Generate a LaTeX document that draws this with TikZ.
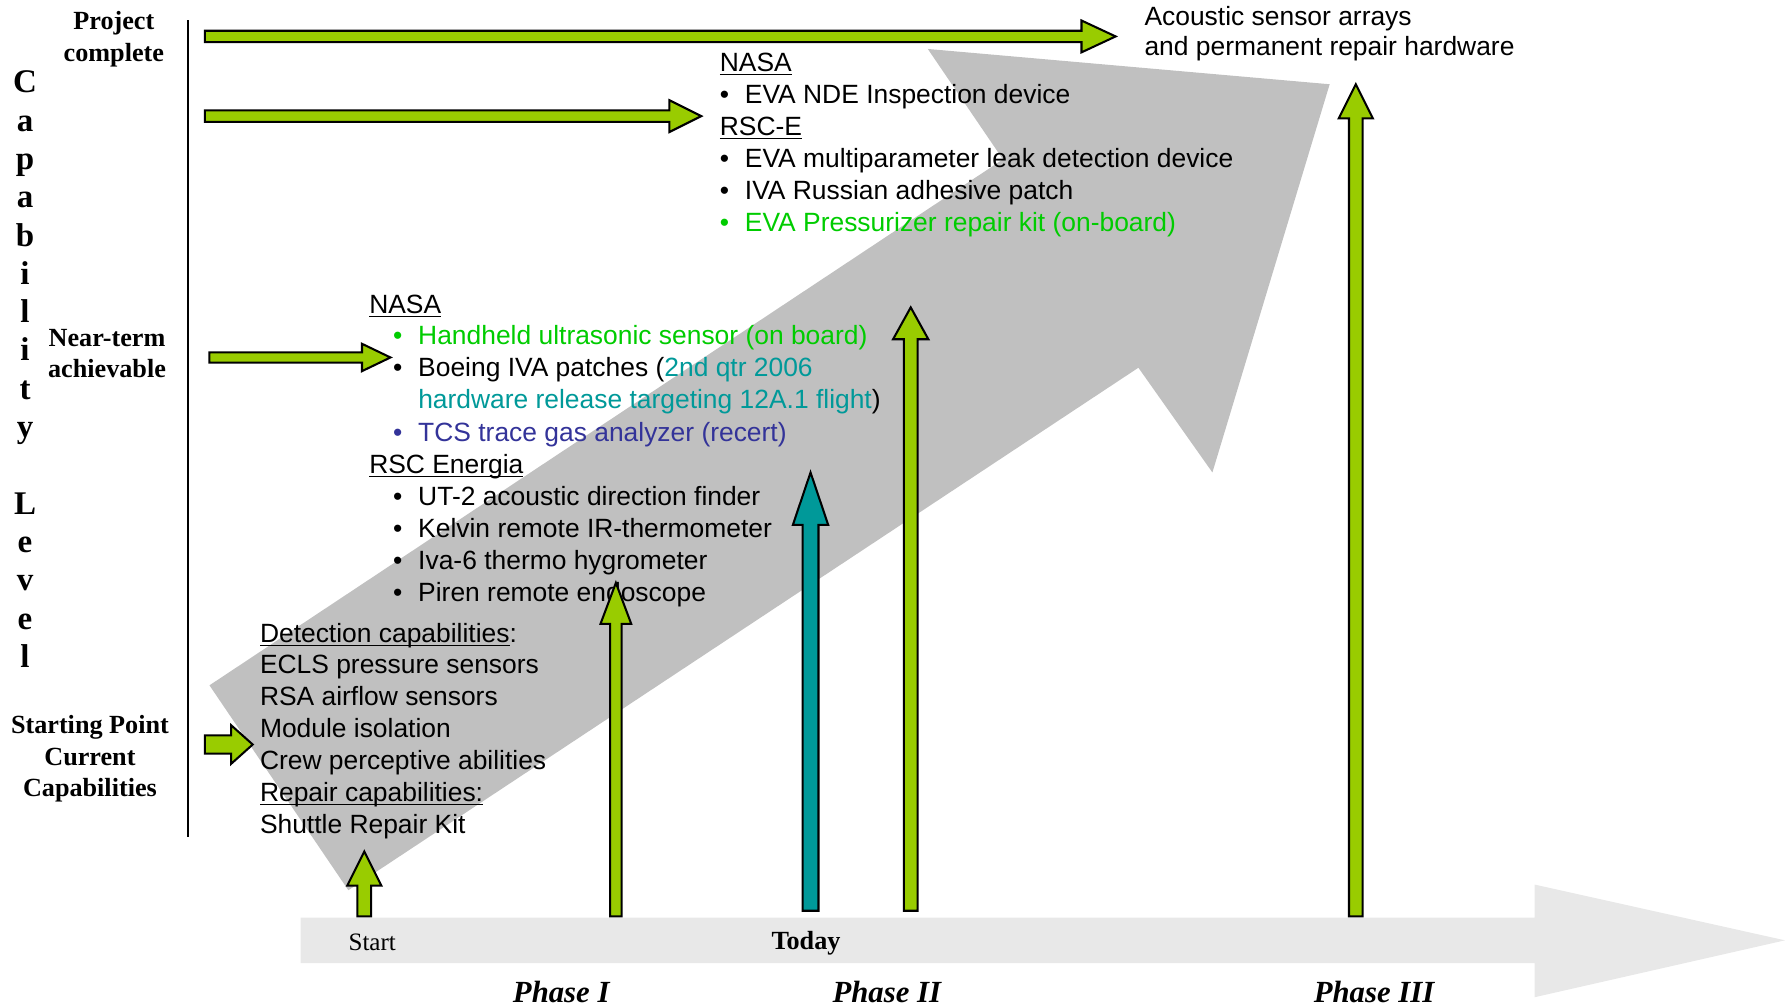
\documentclass[tikz,border=0pt]{standalone}
\usepackage{fontspec}
\setmainfont{Liberation Sans}
\newfontfamily\tnr{Liberation Serif}
\usepackage{tikz}
\usetikzlibrary{positioning}

\definecolor{arrgreen}{HTML}{99CC00}
\definecolor{arrteal}{HTML}{009999}
\definecolor{txtgreen}{HTML}{00CC00}
\definecolor{txtteal}{HTML}{009999}
\definecolor{txtblue}{HTML}{333399}
\definecolor{bigarrow}{HTML}{C0C0C0}
\definecolor{timeline}{HTML}{E8E8E8}

\newcommand{\bul}{\makebox[11pt][l]{\textbullet}}
\newcommand{\ul}[1]{\underline{\smash{#1}}}
% right pointing block arrow: x-from, x-tip, y, shaft half, head half, head length
\newcommand{\rarrow}[6]{%
  \draw[blockarr] (#1,#3-#4) -- (#2-#6,#3-#4) -- (#2-#6,#3-#5) -- (#2,#3)
    -- (#2-#6,#3+#5) -- (#2-#6,#3+#4) -- (#1,#3+#4) -- cycle;}
% upward block arrow: fill, x, y-from, y-tip, shaft half, head half, head length
\newcommand{\uarrow}[7]{%
  \draw[blockarr, fill=#1] (#2-#5,#3) -- (#2-#5,#4+#7) -- (#2-#6,#4+#7) -- (#2,#4)
    -- (#2+#6,#4+#7) -- (#2+#5,#4+#7) -- (#2+#5,#3) -- cycle;}

\begin{document}
\begin{tikzpicture}[
    x=0.5pt, y=-0.5pt,
    blockarr/.style={draw=black, line width=0.9pt, fill=arrgreen, line join=miter},
    item/.style={anchor=base west, inner sep=0, font=\fontsize{11.6}{14}\selectfont},
    lbl/.style={anchor=base, inner sep=0, font=\tnr\bfseries\fontsize{11.5}{14}\selectfont},
    vlet/.style={anchor=base, inner sep=0, font=\tnr\bfseries\fontsize{14.5}{17}\selectfont},
    phase/.style={anchor=base, inner sep=0, font=\tnr\bfseries\itshape\fontsize{13.5}{16}\selectfont},
]
    \useasboundingbox (0,0) rectangle (1568,885);

    % background arrows
    \fill[bigarrow] (184,602) -- (881,140) -- (815,43) -- (1168,74) -- (1065,415)
        -- (1000,323) -- (306,782) -- cycle;
    \fill[timeline] (264,806) -- (1348,806) -- (1348,777) -- (1568,826) -- (1348,876)
        -- (1348,846) -- (264,846) -- cycle;

    % axis
    \draw[line width=0.8pt] (165,18) -- (165,735);

    % left labels
    \node[lbl] (projA) at (100,26) {Project};
    \node[lbl] (projB) at (100,54) {complete};
    \node[lbl] (nearA) at (94,304) {Near-term};
    \node[lbl] (nearB) at (94,332) {achievable};
    \node[lbl] (startA) at (79,644) {Starting Point};
    \node[lbl] (startB) at (79,672) {Current};
    \node[lbl] (startC) at (79,700) {Capabilities};
    \foreach \ch [count=\i from 0] in {C,a,p,a,b,i,l,i,t,y,{},L,e,v,e,l}
        \node[vlet] (cap\i) at (22,81.6+33.64*\i) {\ch};

    % project complete
    \node[item] (acousA) at (1005,22) {Acoustic sensor arrays};
    \node[item] (acousB) at (1005,49) {and permanent repair hardware};

    % phase III items
    \node[item] (nasaTop) at (632,63) {\ul{NASA}};
    \node[item] (evaNde) at (632,91) {\bul EVA NDE Inspection device};
    \node[item] (rscE) at (632,119) {\ul{RSC-E}};
    \node[item] (evaLeak) at (632,147) {\bul EVA multiparameter leak detection device};
    \node[item] (ivaPatch) at (632,175) {\bul IVA Russian adhesive patch};
    \node[item, text=txtgreen] (evaKit) at (632,203) {\bul EVA Pressurizer repair kit (on-board)};

    % near-term items
    \node[item] (nasaMid) at (324,275) {\ul{NASA}};
    \node[item, text=txtgreen] (handheld) at (345,303) {\bul Handheld ultrasonic sensor (on board)};
    \node[item] (boeing) at (345,331) {\bul Boeing IVA patches (\textcolor{txtteal}{2nd qtr 2006}};
    \node[item] (boeingB) at (367,359) {\textcolor{txtteal}{hardware release targeting 12A.1 flight})};
    \node[item, text=txtblue] (tcs) at (345,388) {\bul TCS trace gas analyzer (recert)};
    \node[item] (energia) at (324,416) {\ul{RSC Energia}};
    \node[item] (ut2) at (345,444) {\bul UT-2 acoustic direction finder};
    \node[item] (kelvin) at (345,472) {\bul Kelvin remote IR-thermometer};
    \node[item] (iva6) at (345,500) {\bul Iva-6 thermo hygrometer};
    \node[item] (piren) at (345,528) {\bul Piren remote endoscope};

    % current capabilities
    \node[item] (detect) at (228,564) {\ul{Detection capabilities}:};
    \node[item] (ecls) at (228,592) {ECLS pressure sensors};
    \node[item] (rsa) at (228,620) {RSA airflow sensors};
    \node[item] (module) at (228,648) {Module isolation};
    \node[item] (crew) at (228,676) {Crew perceptive abilities};
    \node[item] (repair) at (228,704) {\ul{Repair capabilities:}};
    \node[item] (shuttle) at (228,732) {Shuttle Repair Kit};

    % timeline labels
    \node[anchor=base, inner sep=0, font=\tnr\fontsize{11}{13}\selectfont] (start) at (327,835) {Start};
    \node[anchor=base, inner sep=0, font=\tnr\bfseries\fontsize{11.5}{13}\selectfont] (today) at (708,834) {Today};
    \node[phase] (ph1) at (493,881) {Phase I};
    \node[phase] (ph2) at (779,881) {Phase II};
    \node[phase] (ph3) at (1207,881) {Phase III};

    % block arrows
    \rarrow{180}{980}{32}{5}{14}{30}
    \rarrow{180}{616}{102}{5}{14}{28}
    \rarrow{184}{343}{314}{4.5}{12}{25}
    \rarrow{180}{222}{654}{8}{17}{19}
    \uarrow{arrgreen}{320}{805}{748}{6}{15}{30}
    \uarrow{arrgreen}{541}{805}{512}{5}{13.5}{36}
    \uarrow{arrteal}{712}{800}{415}{7}{15.5}{46}
    \uarrow{arrgreen}{800}{800}{270}{6}{15.5}{28}
    \uarrow{arrgreen}{1191}{805}{74}{6}{15}{30}
\end{tikzpicture}
\end{document}
